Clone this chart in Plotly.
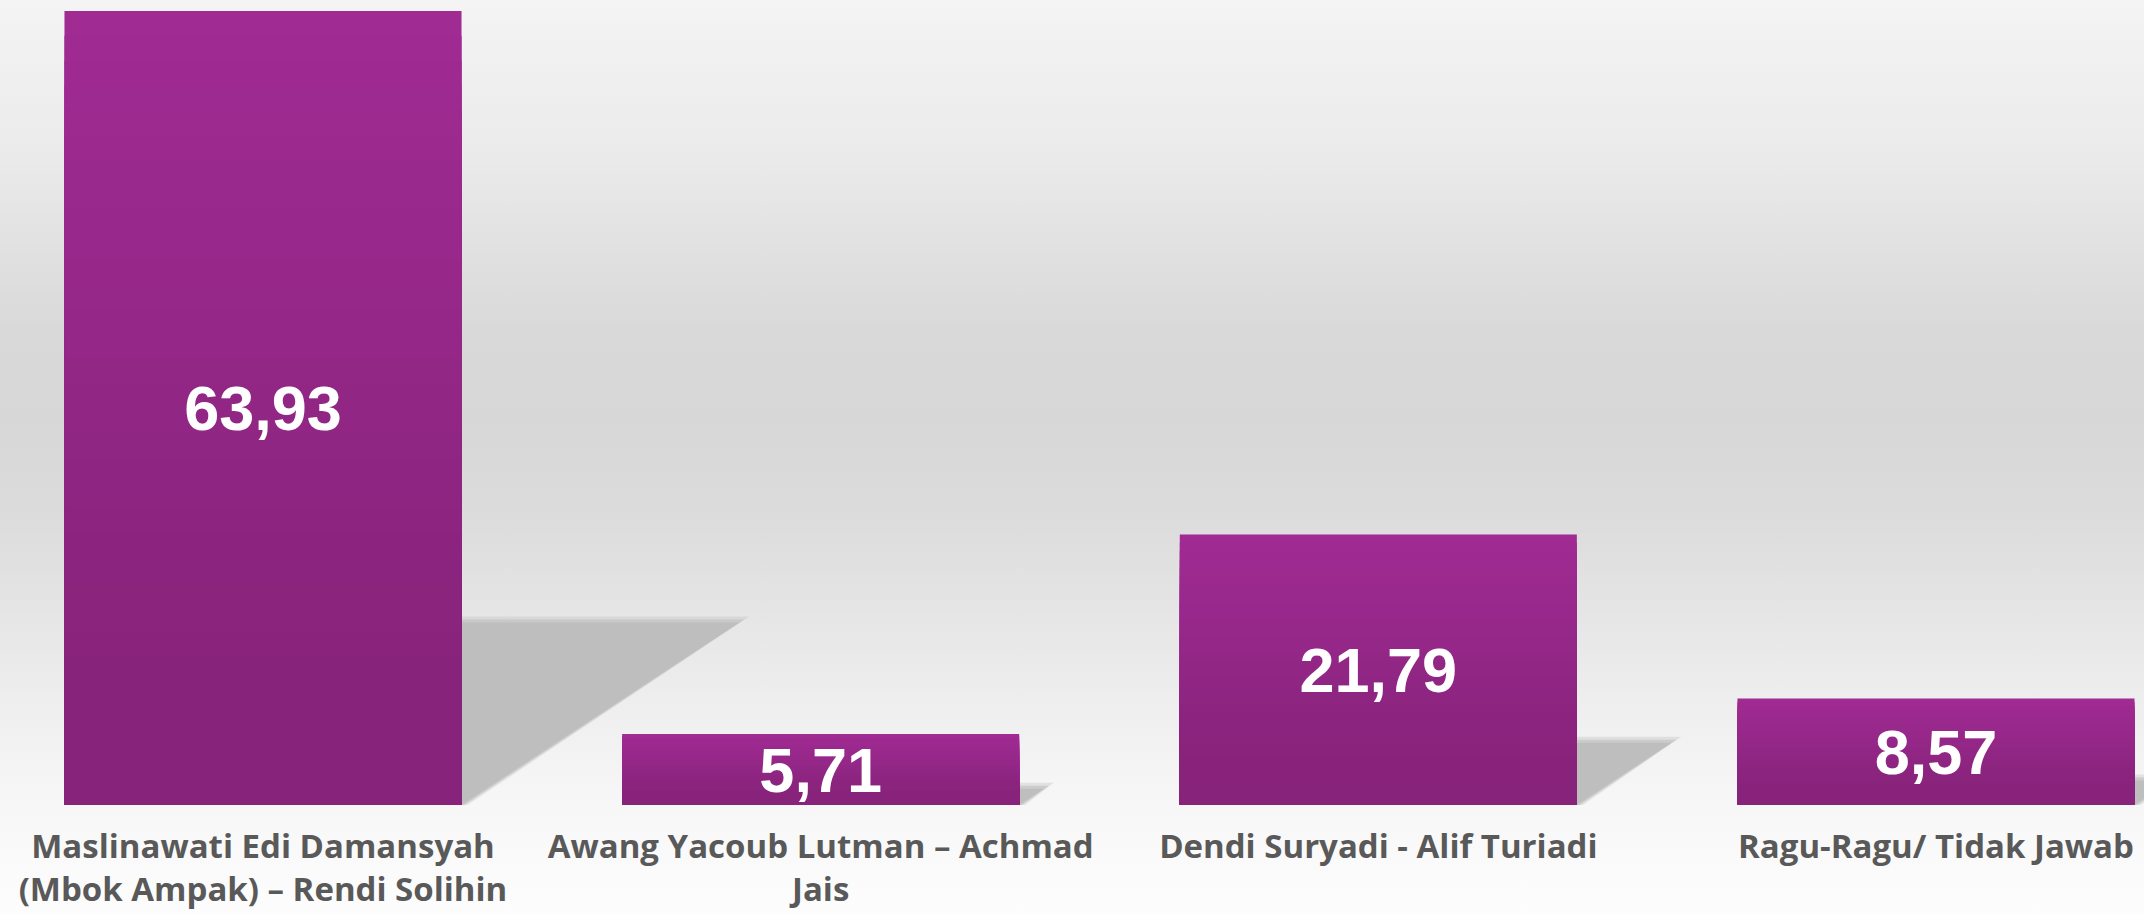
import base64
import plotly.graph_objects as go

# ---------------- data ----------------
categories = [
    "Maslinawati Edi Damansyah (Mbok Ampak) – Rendi Solihin",
    "Awang Yacoub Lutman – Achmad Jais",
    "Dendi Suryadi - Alif Turiadi",
    "Ragu-Ragu/ Tidak Jawab",
]
tick_labels = [
    "Maslinawati Edi Damansyah<br>(Mbok Ampak) – Rendi Solihin",
    "Awang Yacoub Lutman – Achmad<br>Jais",
    "Dendi Suryadi - Alif Turiadi",
    "Ragu-Ragu/ Tidak Jawab",
]
values = [63.93, 5.71, 21.79, 8.57]
value_labels = [f"{v:.2f}".replace(".", ",") for v in values]

# ---------------- layout constants ----------------
W, H = 2144, 914
MB = 109
PH = H - MB
XR = [-0.4716, 3.373]
YR = [0, 64.82]
kx = W / (XR[1] - XR[0])   # px per x unit
ky = PH / (YR[1] - YR[0])  # px per y unit
BARGAP = 0.288
HALF_W = (1 - BARGAP) / 2

xs = list(range(len(categories)))

TOP = (160, 43, 147)
BOT = (136, 35, 123)


def lerp(a, b, t):
    return tuple(round(a[i] + (b[i] - a[i]) * t) for i in range(3))


fig = go.Figure()

# gradient layers of each bar (overlaid, from full height down)
N = 32
for k in range(N):
    t = k / N
    c = lerp(TOP, BOT, min(t / 0.8, 1.0))
    fig.add_trace(go.Bar(
        x=xs, y=[v * (1 - t) for v in values],
        marker=dict(color=f"rgb{c}", line=dict(width=0)),
        hoverinfo="skip", showlegend=False,
    ))

# main bar trace carrying the labels
fig.add_trace(go.Bar(
    x=xs, y=values, name="",
    marker=dict(color="rgba(0,0,0,0)", line=dict(width=0)),
    text=value_labels, textposition="inside", insidetextanchor="middle",
    textangle=0, constraintext="none",
    textfont=dict(family="Liberation Sans, Arial, sans-serif", size=63,
                  color="white", weight="bold"),
    hoverinfo="skip", showlegend=False,
))

# perspective shadows
shapes = []
for i, v in zip(xs, values):
    hpx = v * ky
    dx = 0.35 * hpx / kx
    dy = 0.23 * v
    for e, col in [(6, "rgba(190,190,190,0.35)"), (3, "rgba(190,190,190,0.6)"), (0, "rgb(190,190,190)")]:
        ex = e / kx
        ey = e / ky
        pts = [
            (i - HALF_W, 0),
            (i + HALF_W + ex, 0),
            (i + HALF_W + dx + 1.6 * ex, dy + ey),
            (i - HALF_W + dx, dy + ey),
        ]
        path = "M " + " L ".join(f"{px:.5f},{py:.5f}" for px, py in pts) + " Z"
        shapes.append(dict(type="path", path=path, xref="x", yref="y",
                           layer="below", fillcolor=col, line=dict(width=0)))

# background gradient as svg image
stops = [(0, 244), (150, 235), (330, 217), (420, 215), (520, 220),
         (600, 228), (700, 238), (805, 247), (914, 253)]
svg = (f'<svg xmlns="http://www.w3.org/2000/svg" width="{W}" height="{H}" '
       f'viewBox="0 0 {W} {H}" preserveAspectRatio="none">'
       '<defs><linearGradient id="g" x1="0" y1="0" x2="0" y2="1">'
       + "".join(f'<stop offset="{p / H:.4f}" stop-color="rgb({g},{g},{g})"/>' for p, g in stops)
       + f'</linearGradient></defs><rect x="0" y="0" width="{W}" height="{H}" fill="url(#g)"/></svg>')
src = "data:image/svg+xml;base64," + base64.b64encode(svg.encode()).decode()

fig.update_layout(
    width=W, height=H, autosize=False,
    margin=dict(l=0, r=0, t=0, b=MB, pad=0),
    barmode="overlay", bargap=BARGAP,
    paper_bgcolor="white", plot_bgcolor="rgba(0,0,0,0)",
    showlegend=False, hovermode=False,
    shapes=shapes,
    images=[dict(source=src, xref="paper", yref="paper", x=0, y=1,
                 sizex=1, sizey=H / PH, sizing="stretch",
                 xanchor="left", yanchor="top", layer="below")],
    xaxis=dict(range=XR, tickvals=xs, ticktext=tick_labels,
               tickfont=dict(family="Open Sans, sans-serif", size=33, color="#595959", weight="bold"),
               ticks="", showgrid=False, zeroline=False, showline=False,
               ticklabelstandoff=19, automargin=False, fixedrange=True),
    yaxis=dict(range=YR, visible=False, showgrid=False, zeroline=False,
               automargin=False, fixedrange=True),
)

fig.write_html("out.html", config={"displayModeBar": False},
               post_script="document.body.style.margin='0';document.body.style.overflow='hidden';")
